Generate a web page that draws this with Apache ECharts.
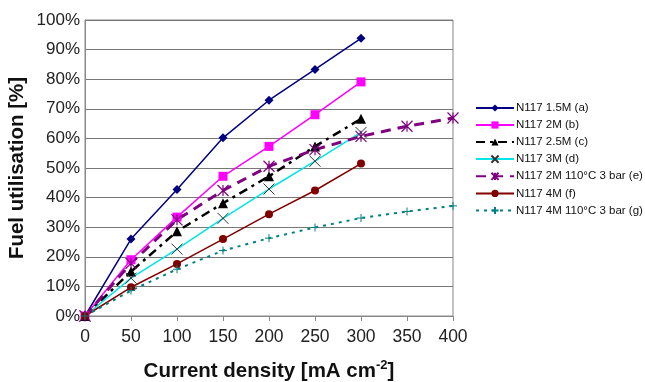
<!DOCTYPE html>
<html><head><meta charset="utf-8">
<script src="https://cdn.jsdelivr.net/npm/echarts@6/dist/echarts.min.js"></script>
<style>html,body{margin:0;padding:0;background:#fff}#c{width:645px;height:382px}</style>
</head><body><div id="c"></div>
<script>
const xShort = [0, 50, 100, 150, 200, 250, 300];
const xLong = [0, 50, 100, 150, 200, 250, 300, 350, 400];
const yTicks = ['0%','10%','20%','30%','40%','50%','60%','70%','80%','90%','100%'];
const names = ['N117 1.5M (a)','N117 2M (b)','N117 2.5M (c)','N117 3M (d)','N117 2M 110°C 3 bar (e)','N117 4M (f)','N117 4M 110°C 3 bar (g)'];
const sA = [0, 26, 42.7, 60.2, 72.9, 83.3, 93.8];
const sB = [0, 19, 33.4, 47.2, 57.3, 68, 79.1];
const sC = [0, 15, 28.6, 38.1, 47.2, 57.3, 66.6];
const sD = [0, 12.8, 22.6, 33, 42.9, 52.3, 62];
const sE = [0, 17.8, 32.5, 42.4, 50.6, 56.2, 60.7, 64.1, 66.9];
const sF = [0, 9.7, 17.6, 26, 34.4, 42.4, 51.5];
const sG = [0, 8.6, 15.8, 22.1, 26.3, 29.9, 33.1, 35.3, 37.2];

const pair = (xs, ys) => ys.map((v, i) => [xs[i], v]);
const XPATH = 'path://M0,0L10,10M10,0L0,10';
const STAR = 'path://M0,0L10,10M10,0L0,10M5,0L5,10';
const PLUS = 'path://M5,0L5,10M0,5L10,5';
const FONT = 'Liberation Sans, Arial, sans-serif';

function mk(name, data, color, opt) {
  return Object.assign({
    name, type: 'line', data, symbolSize: 7,
    lineStyle: { color, width: 1.5 },
    itemStyle: { color },
    emphasis: { disabled: true }, animation: false
  }, opt);
}

const series = [
  mk(names[0], pair(xShort, sA), '#000080', { symbol: 'diamond', symbolSize: 9 }),
  mk(names[1], pair(xShort, sB), '#ff00ff', { symbol: 'rect', symbolSize: 9 }),
  mk(names[2], pair(xShort, sC), '#000000', { symbol: 'triangle', symbolSize: 10,
     lineStyle: { color: '#000', width: 2.5, type: [9, 5, 3, 5] } }),
  mk(names[3], pair(xShort, sD), '#00e5e5', { symbol: XPATH, symbolSize: 11,
     lineStyle: { color: '#00e5e5', width: 1.5 },
     itemStyle: { color: 'none', borderColor: '#333', borderWidth: 1 } }),
  mk(names[4], pair(xLong, sE), '#800080', { symbol: STAR, symbolSize: 11,
     lineStyle: { color: '#800080', width: 3, type: [10, 7] },
     itemStyle: { color: 'none', borderColor: '#800080', borderWidth: 1.2 } }),
  mk(names[5], pair(xShort, sF), '#800000', { symbol: 'circle', symbolSize: 8 }),
  mk(names[6], pair(xLong, sG), '#008080', { symbol: PLUS, symbolSize: 8,
     lineStyle: { color: '#008080', width: 2, type: [3, 5] },
     itemStyle: { color: 'none', borderColor: '#008080', borderWidth: 1 } })
];

const chart = echarts.init(document.getElementById('c'));
chart.setOption({
  animation: false,
  textStyle: { fontFamily: FONT },
  grid: { left: 85, right: 192, top: 20, bottom: 66, show: true, borderColor: '#888', borderWidth: 1,
          containLabel: false, outerBoundsMode: 'none' },
  legend: {
    orient: 'vertical', left: 470, top: 97, itemGap: 5, itemWidth: 38, itemHeight: 9,
    data: names, textStyle: { fontSize: 11.5, color: '#111', fontFamily: FONT, padding: [0, 0, 0, -3] },
    selectedMode: false
  },
  xAxis: {
    type: 'value', min: 0, max: 400, interval: 50,
    name: '{a|Current density [mA cm}{s|-2}{a|]}', nameLocation: 'middle', nameGap: 43,
    nameTextStyle: { rich: {
      a: { fontSize: 20.5, fontWeight: 'bold', color: '#111', fontFamily: FONT },
      s: { fontSize: 13, fontWeight: 'bold', color: '#111', verticalAlign: 'top', padding: [0, 0, 12, 0], fontFamily: FONT } } },
    axisLine: { lineStyle: { color: '#888' } },
    axisTick: { show: true, length: 5, lineStyle: { color: '#888' } },
    axisLabel: { fontSize: 17.5, color: '#222', margin: 12, fontFamily: FONT },
    splitLine: { show: false }
  },
  yAxis: {
    type: 'value', min: 0, max: 100, interval: 10,
    name: 'Fuel utilisation [%]', nameLocation: 'middle', nameGap: 57, nameMoveOverlap: false,
    nameTextStyle: { fontSize: 20.5, fontWeight: 'bold', color: '#111', fontFamily: FONT },
    axisLine: { show: true, lineStyle: { color: '#888' } },
    axisTick: { show: false },
    axisLabel: { fontSize: 17, color: '#222', margin: 5, fontFamily: FONT, formatter: v => yTicks[Math.round(v / 10)] },
    splitLine: { lineStyle: { color: '#777', width: 1 } }
  },
  series
});
</script></body></html>
